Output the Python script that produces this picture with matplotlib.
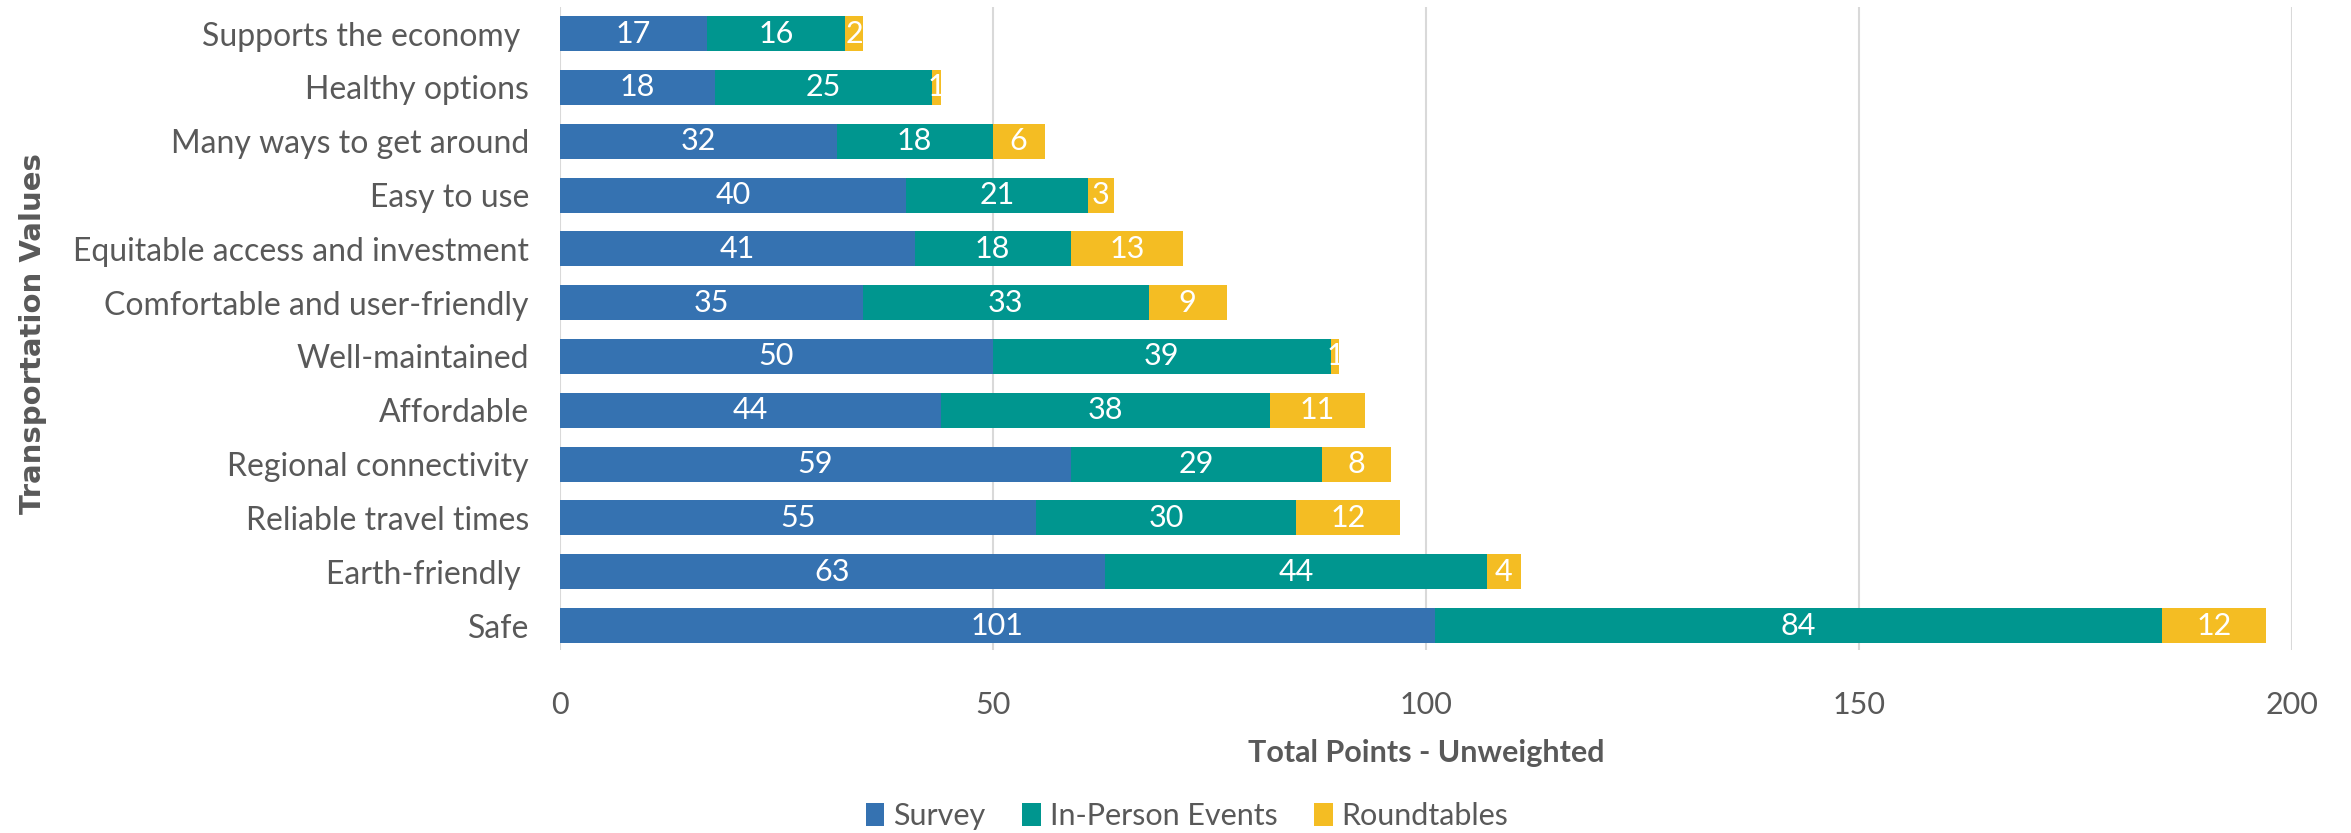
import numpy as np
import matplotlib
matplotlib.use("Agg")
import matplotlib.pyplot as plt

plt.rcParams['font.family'] = ['Lato', 'DejaVu Sans']

categories = ["Supports the economy ", "Healthy options", "Many ways to get around", "Easy to use",
              "Equitable access and investment", "Comfortable and user-friendly", "Well-maintained",
              "Affordable", "Regional connectivity", "Reliable travel times", "Earth-friendly ", "Safe"]
survey = [17, 18, 32, 40, 41, 35, 50, 44, 59, 55, 63, 101]
in_person = [16, 25, 18, 21, 18, 33, 39, 38, 29, 30, 44, 84]
roundtables = [2, 1, 6, 3, 13, 9, 1, 11, 8, 12, 4, 12]
series_names = ["Survey", "In-Person Events", "Roundtables"]
colors = ["#3572b1", "#00968f", "#f4bd23"]
grey = "#595959"

fig = plt.figure(figsize=(23.51, 8.33), dpi=100)
ax = fig.add_axes([0.238, 0.22, 0.737, 0.772])

y = np.arange(len(categories))
left = np.zeros(len(categories))
for vals, name, c in zip([survey, in_person, roundtables], series_names, colors):
    bars = ax.barh(y, vals, left=left, height=0.65, color=c, label=name)
    ax.bar_label(bars, labels=[str(v) for v in vals], label_type="center",
                 color="white", fontsize=22)
    left = left + np.array(vals)

ax.set_ylim(11.45, -0.5)
ax.set_xlim(0, 200)
ax.set_xticks([0, 50, 100, 150, 200])
ax.set_yticks(y)
ax.set_yticklabels(categories)
ax.tick_params(axis="y", length=0, pad=22, labelsize=23, labelcolor=grey)
ax.tick_params(axis="x", length=0, pad=30, labelsize=22, labelcolor=grey)
ax.grid(axis="x", color="#d9d9d9", lw=1.5)
ax.set_axisbelow(True)
for s in ax.spines.values():
    s.set_visible(False)

ax.set_xlabel("Total Points - Unweighted", fontsize=22, fontweight="bold", color=grey, labelpad=14)
fig.text(0.014, 0.6, "Transportation Values", rotation=90, ha="center", va="center",
         fontsize=21, fontweight="bold", color=grey, family=["DejaVu Sans"])

fig.legend(loc="center", bbox_to_anchor=(0.505, 0.02), ncol=3, frameon=False,
           fontsize=22, labelcolor=grey, handlelength=0.6, handleheight=0.8,
           handletextpad=0.3, columnspacing=1.2)

fig.savefig("out.png", dpi=100)
